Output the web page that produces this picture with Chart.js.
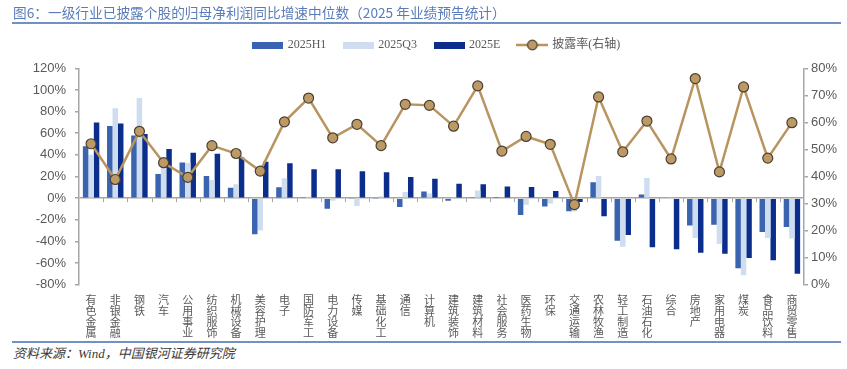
<!DOCTYPE html>
<html><head><meta charset="utf-8">
<script src="https://cdn.jsdelivr.net/npm/chart.js@4.4.1/dist/chart.umd.min.js"></script>
<style>
html,body{margin:0;padding:0;background:#fff;}
#wrap{position:relative;width:847px;height:369px;overflow:hidden;background:#fff;}
canvas{position:absolute;left:0;top:0;}
#title{position:absolute;left:13px;top:3px;font:13.7px 'Noto Sans CJK SC',sans-serif;color:#5a7cba;line-height:18px;white-space:nowrap;}
#rule1{position:absolute;left:12px;top:22px;width:829px;height:1.5px;background:#7090c6;}
#rule2{position:absolute;left:12px;top:341px;width:829px;height:1.5px;background:#7090c6;}
#src{position:absolute;left:13px;top:345px;font:italic 13px 'Liberation Serif','Noto Sans CJK SC',serif;color:#3a3a3a;line-height:18px;white-space:nowrap;}
</style></head>
<body><div id="wrap">
<canvas id="c" width="847" height="340"></canvas>
<div id="title">图6：一级行业已披露个股的归母净利润同比增速中位数（2025 年业绩预告统计）</div>
<div id="rule1"></div>
<div id="rule2"></div>
<div id="src">资料来源：Wind，中国银河证券研究院</div>
</div>
<script>
const categories = ['有色金属','非银金融','钢铁','汽车','公用事业','纺织服饰','机械设备','美容护理','电子','国防军工','电力设备','传媒','基础化工','通信','计算机','建筑装饰','建筑材料','社会服务','医药生物','环保','交通运输','农林牧渔','轻工制造','石油石化','综合','房地产','家用电器','煤炭','食品饮料','商贸零售'];
const seriesNames = ['2025H1','2025Q3','2025E','披露率(右轴)'];
const h1 = [48, 66.7, 58, 22.4, 33, 20.5, 9.7, -33.4, 10, 0.3, -9.8, -0.5, -0.5, -8.3, 6.2, -2.4, 0.3, 1, -15.5, -7.8, -12.1, 14.7, -39.3, 3.3, 0.5, -25.4, -24.5, -64.8, -31.2, -26.6];
const q3 = [40, 83, 92.6, 28, 32.5, 16.8, 12.8, -30, 18.4, 1.2, -2.5, -7.2, 1.7, 5.7, 4.3, 0.3, 7.1, 0.5, -6, -5, -12.4, 20.5, -45, 18.7, 0.3, -36.8, -42.3, -71.3, -36.8, -37.4];
const e2025 = [70, 69, 59.3, 45.5, 42, 41, 37.5, 33.7, 32.2, 26.7, 26.7, 24.8, 23.9, 19.6, 18, 13.3, 12.8, 10.8, 10.3, 6.6, -3.5, -16.8, -34, -45.4, -47.3, -50.4, -51.3, -55.3, -57.4, -69.8];
const rate = [52.1, 38.9, 56.7, 45.1, 39.7, 51.4, 48.5, 42.0, 60.2, 69.0, 54.3, 59.3, 51.4, 66.7, 66.3, 58.6, 73.5, 49.4, 54.8, 51.9, 29.6, 69.4, 49.1, 60.5, 46.5, 76.2, 41.7, 73.1, 46.8, 59.9];
const leftTicks = {min: -80, max: 120, step: 20};
const rightTicks = {min: 0, max: 80, step: 10};

const C_H1 = '#3a63b0', C_Q3 = '#cfddf1', C_E = '#0b2d8c', C_LINE = '#b8955f', C_PT = '#bd9a65', C_PTB = '#4a3f30';
const AX = '#a6a6a6', TXT = '#595959';

function swatch(color){ const c=document.createElement('canvas'); c.width=31; c.height=7; const g=c.getContext('2d'); g.fillStyle=color; g.fillRect(0,0,31,7); return c; }
function lineSwatch(){ const c=document.createElement('canvas'); c.width=32; c.height=12; const g=c.getContext('2d');
  g.strokeStyle=C_LINE; g.lineWidth=2.5; g.beginPath(); g.moveTo(0,6); g.lineTo(32,6); g.stroke();
  g.fillStyle=C_PT; g.strokeStyle=C_PTB; g.lineWidth=1.2; g.beginPath(); g.arc(16,6,4.8,0,Math.PI*2); g.fill(); g.stroke(); return c; }
const legendImgs = [swatch(C_H1), swatch(C_Q3), swatch(C_E), lineSwatch()];

const catTicks = { id:'catTicks', beforeDatasetsDraw(chart){
  const x=chart.scales.x, y=chart.scales.y, ctx=chart.ctx; const y0=y.getPixelForValue(0);
  ctx.save(); ctx.strokeStyle=AX; ctx.lineWidth=1;
  for(let i=1;i<categories.length;i++){ const bx=(x.getPixelForValue(i-1)+x.getPixelForValue(i))/2;
    ctx.beginPath(); ctx.moveTo(Math.round(bx)+0.5,y0); ctx.lineTo(Math.round(bx)+0.5,y0+4); ctx.stroke(); }
  ctx.restore(); } };

const sans = "'Liberation Sans','Noto Sans CJK SC',sans-serif";
new Chart(document.getElementById('c'), {
  type: 'bar',
  data: {
    labels: categories.map(s => Array.from(s)),
    datasets: [
      {label: seriesNames[0], data: h1, backgroundColor: C_H1, yAxisID: 'y', order: 1},
      {label: seriesNames[1], data: q3, backgroundColor: C_Q3, yAxisID: 'y', order: 1},
      {label: seriesNames[2], data: e2025, backgroundColor: C_E, yAxisID: 'y', order: 1},
      {label: seriesNames[3], data: rate, type: 'line', yAxisID: 'y1', order: 0, borderColor: C_LINE, borderWidth: 2.5,
        pointRadius: 5, pointBackgroundColor: C_PT, pointBorderColor: C_PTB, pointBorderWidth: 1.2, tension: 0, pointStyle: 'circle'}
    ]
  },
  options: {
    responsive: false, devicePixelRatio: 1, animation: false,
    datasets: {bar: {barPercentage: 1, categoryPercentage: 0.68}},
    layout: {padding: {top: 21, left: 27, right: 0, bottom: 0}},
    plugins: {
      tooltip: {enabled: false},
      title: {display: false},
      subtitle: {display: true, text: '', position: 'top', weight: 500, font: {size: 5, lineHeight: 1}, padding: {top: 2.3, bottom: 0}},
      legend: {
        position: 'top', align: 'center',
        labels: {
          usePointStyle: true, pointStyleWidth: 28, padding: 18, color: TXT,
          font: {size: 12, family: "'Liberation Serif','Noto Sans CJK SC',serif"},
          sort: (a, b) => a.datasetIndex - b.datasetIndex,
          generateLabels: (chart) => Chart.defaults.plugins.legend.labels.generateLabels(chart).map(l => { l.pointStyle = legendImgs[l.datasetIndex]; return l; })
        }
      }
    },
    scales: {
      x: {
        grid: {display: false, drawTicks: false}, border: {display: false},
        ticks: {autoSkip: false, maxRotation: 0, minRotation: 0, padding: 10, color: TXT, font: {size: 11, family: "'Noto Sans CJK SC',sans-serif", lineHeight: 1}},
        afterFit: s => { s.height = 55.3; }
      },
      y: {
        position: 'left', min: leftTicks.min, max: leftTicks.max,
        ticks: {stepSize: leftTicks.step, callback: v => v + '%', color: TXT, padding: 9, font: {size: 13, family: sans}},
        grid: {drawOnChartArea: true, color: c => (c.tick && c.tick.value === 0) ? AX : 'rgba(0,0,0,0)', tickColor: AX, tickLength: 4, lineWidth: 1.5},
        border: {display: true, color: AX, width: 1.5},
        afterFit: s => { s.width = 52; }
      },
      y1: {
        position: 'right', min: rightTicks.min, max: rightTicks.max,
        ticks: {stepSize: rightTicks.step, callback: v => v + '%', color: TXT, padding: 3, font: {size: 13, family: sans}},
        grid: {drawOnChartArea: false, color: AX, tickLength: 4, lineWidth: 1.5},
        border: {display: true, color: AX, width: 1.5},
        afterFit: s => { s.width = 43; }
      }
    }
  },
  plugins: [catTicks]
});
</script>
</body></html>
